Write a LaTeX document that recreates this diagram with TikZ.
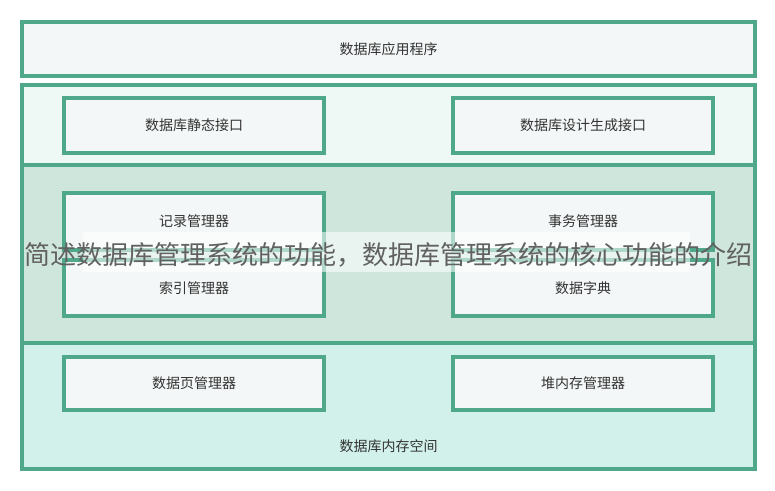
\documentclass[tikz,border=0pt]{standalone}
\usepackage{fontspec}
\setmainfont{Noto Sans CJK SC}
\usetikzlibrary{positioning}

\definecolor{edgegreen}{HTML}{4FA88A}
\definecolor{palegrey}{HTML}{F4F7F7}
\definecolor{paletop}{HTML}{EEF8F5}
\definecolor{midgreen}{HTML}{CFE6DC}
\definecolor{lowgreen}{HTML}{D2F1EA}
\definecolor{labelgrey}{HTML}{333333}

\begin{document}
\begin{tikzpicture}[
    x=1pt, y=-1pt,
    band/.style={rectangle, draw=edgegreen, line width=3.2pt, minimum width=733pt, inner sep=0pt},
    box/.style={rectangle, draw=edgegreen, line width=3.2pt, fill=palegrey, minimum width=260pt, minimum height=55pt, inner sep=0pt, font=\fontsize{14}{16}\selectfont, text=labelgrey},
    label/.style={font=\fontsize{14}{16}\selectfont, text=labelgrey}
]
\useasboundingbox (0,0) rectangle (775,490);
\fill[white] (0,0) rectangle (775,490);

% Application layer
\node[band, fill=palegrey, minimum height=54pt, font=\fontsize{14}{16}\selectfont, text=labelgrey] (app) at (388.5,49) {数据库应用程序};

% Three bands of the DBMS
\node[band, fill=paletop, minimum height=80pt] (iface) at (388.5,125) {};
\node[band, fill=midgreen, minimum height=178pt] (core) at (388.5,254) {};
\node[band, fill=lowgreen, minimum height=126pt] (memory) at (388.5,406) {};

% Interfaces
\node[box] (static) at (194,125.5) {数据库静态接口};
\node[box] (design) at (583,125.5) {数据库设计生成接口};

% Core managers
\node[box, minimum height=57pt] (record) at (194,221.5) {记录管理器};
\node[box, minimum height=56pt] (index) at (194,288) {索引管理器};
\node[box, minimum height=57pt] (trans) at (583,221.5) {事务管理器};
\node[box, minimum height=56pt] (dict) at (583,288) {数据字典};

% Memory managers
\node[box, minimum height=53pt] (page) at (194,383.5) {数据页管理器};
\node[box, minimum height=53pt] (heap) at (583,383.5) {堆内存管理器};
\node[label] (space) at (388.5,446) {数据库内存空间};

% Title overlay
\fill[white, opacity=0.55] (83,232) rectangle (690,272);
\node[font=\fontsize{26}{30}\selectfont, text=black!62] (title) at (388.5,255) {简述数据库管理系统的功能，数据库管理系统的核心功能的介绍};

\end{tikzpicture}
\end{document}
